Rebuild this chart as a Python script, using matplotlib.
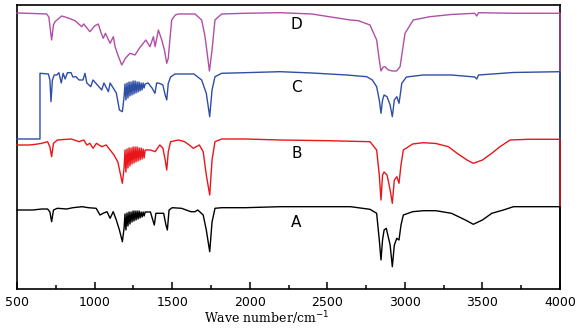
import matplotlib.pyplot as plt
from matplotlib.ticker import MultipleLocator

# IR spectra: wavenumber (cm-1) and trace height
# (arbitrary units, measured downward from the top of the frame)
wn_d = [500, 600, 691, 705, 723, 735, 745, 788, 830, 874, 917, 930, 970, 1000, 1024, 1040, 1056, 1070,
        1100, 1121, 1132, 1150, 1175, 1200, 1228, 1260, 1290, 1314, 1330, 1357, 1379, 1390, 1411, 1433,
        1450, 1465, 1475, 1485, 1497, 1520, 1540, 1647, 1690, 1710, 1723, 1740, 1757, 1776, 1819, 1970,
        2195, 2400, 2646, 2700, 2775, 2818, 2835, 2846, 2860, 2872, 2893, 2920, 2947, 2969, 2985, 3001,
        3054, 3162, 3300, 3450, 3463, 3475, 3700, 4000, 4000]
t_d = [13, 13.5, 14, 17, 40, 25, 21.7, 16, 18, 20.7, 26.7, 24, 31.7, 26, 24, 32, 38.3, 33.3,
       43.3, 36.7, 46.7, 55, 65, 58, 53.3, 55, 48, 43.3, 40, 46.7, 36.7, 46.7, 30, 40,
       50, 63.3, 58.3, 40, 20, 15, 14, 14, 20, 35, 50, 71, 50, 20, 14, 13.3,
       12.7, 14, 20, 20.7, 25, 40, 60, 71, 67, 66.7, 70, 71, 71, 66.7, 50, 33.3,
       20, 16.7, 14.5, 13.3, 16, 12.7, 13.3, 13.3, 72]

wn_c = [500, 648, 648, 702, 712, 719, 728, 740, 756, 770, 785, 797, 810, 825, 848, 860, 880, 900, 925,
        938, 950, 975, 990, 1046, 1060, 1089, 1100, 1120, 1140, 1160, 1179, 1190,
        1196, 1202, 1209, 1215, 1222, 1228, 1235, 1241, 1248, 1254, 1261, 1267, 1274, 1280, 1287, 1293,
        1300, 1306, 1313, 1319, 1326,
        1345, 1370, 1389, 1400, 1418, 1440, 1455, 1465, 1475, 1490, 1518, 1640, 1690, 1720, 1742, 1757,
        1776, 1819, 1970, 2195, 2400, 2625, 2700, 2754, 2790, 2818, 2835, 2846, 2856, 2866, 2885, 2905,
        2919, 2932, 2948, 2962, 2970, 2980, 3010, 3119, 3300, 3450, 3463, 3475, 3700, 4000, 4000]
t_c = [139, 139, 73.3, 74, 80, 101.7, 80, 75, 75, 72.7, 83, 73.3, 79, 72.7, 72.7, 77, 76.7, 80, 80,
       73.3, 83, 86.7, 80, 90, 83, 91.7, 83, 88, 93, 110, 111.7, 96.7,
       84, 100, 83, 98, 82, 96, 82, 95, 81, 94, 81, 93, 82, 92, 82, 91,
       83, 90, 83, 88, 84,
       83, 88, 93.3, 83, 83.3, 85, 95, 100, 83.3, 77, 74, 74, 80, 93.3, 116.7, 90,
       76.7, 73.3, 72.7, 71.7, 73, 75, 76, 76.7, 80, 86.7, 100, 113.3, 100, 95, 96.7, 105,
       116.7, 100, 96.7, 103.3, 95, 83.3, 77, 75, 75, 77, 79, 75, 72.5, 71.7, 139]

wn_b = [500, 580, 620, 660, 697, 712, 723, 735, 760, 850, 900, 930, 950, 970, 990, 1012, 1046, 1075,
        1100, 1125, 1150, 1179, 1190,
        1196, 1202, 1209, 1215, 1222, 1228, 1235, 1241, 1248, 1254, 1261, 1267, 1274, 1280, 1287, 1293,
        1300, 1306, 1313, 1319, 1326,
        1360, 1390, 1420, 1440, 1455, 1465, 1475, 1490, 1540, 1580, 1610, 1637, 1655, 1675, 1700, 1720,
        1742, 1757, 1776, 1819, 1970, 2195, 2500, 2775, 2818, 2835, 2846, 2856, 2866, 2885, 2905, 2919,
        2932, 2948, 2962, 2975, 2990, 3050, 3119, 3200, 3280, 3334, 3400, 3441, 3500, 3560, 3613, 3678,
        3800, 4000, 4000]
t_b = [145, 145, 144.3, 143.3, 141.7, 147, 156.7, 143.3, 140, 139, 141.7, 140, 145, 143.3, 148.3, 143.3, 146.7, 145,
       150, 155, 162, 183.3, 168,
       150, 172, 149, 168, 148, 166, 148, 164, 147, 163, 147, 162, 147, 161, 148, 160,
       148, 159, 149, 158, 150,
       150, 151.7, 145, 148, 160, 170, 151.7, 141.7, 140, 141.7, 145, 148.3, 146.7, 145, 151.7, 175,
       195, 160, 141.7, 139, 139, 140, 140.7, 141.7, 150, 175, 200, 175, 172, 175, 190, 203.3,
       180, 176.7, 183.3, 165, 150, 144, 142.7, 143.5, 146.7, 153, 160, 163.3, 160, 153.3, 146.7, 140,
       139.3, 139.3, 207]

wn_a = [500, 600, 660, 697, 712, 723, 735, 760, 820, 860, 920, 960, 1010, 1035, 1055, 1080, 1100, 1120,
        1140, 1160, 1179, 1190,
        1196, 1202, 1209, 1215, 1222, 1228, 1235, 1241, 1248, 1254, 1261, 1267, 1274, 1280, 1287, 1293,
        1300, 1306, 1313, 1319, 1326,
        1360, 1375, 1385, 1395, 1420, 1445, 1460, 1469, 1480, 1500, 1560, 1620, 1647, 1665, 1700, 1720,
        1742, 1757, 1776, 1819, 1970, 2195, 2650, 2775, 2818, 2835, 2846, 2856, 2866, 2880, 2905, 2919,
        2932, 2948, 2962, 2975, 2990, 3050, 3119, 3200, 3300, 3390, 3441, 3500, 3560, 3635, 3700, 4000, 4000]
t_a = [210, 210, 209, 209, 212, 221.7, 210, 208.3, 209, 207.7, 206.7, 207.7, 208.3, 215, 213.3, 211.7, 218.3, 211.7,
       220, 230, 241.7, 228,
       214, 230, 213, 226, 212, 224, 212, 222, 211, 221, 211, 220, 211, 219, 211, 218,
       212, 217, 212, 216, 212,
       212, 220, 225, 213.3, 213.3, 213.3, 225, 230, 210, 207.7, 208.3, 211.7, 211.7, 210, 215, 230,
       251.7, 222, 208.3, 207.7, 207.7, 206.7, 206.7, 209.3, 213.3, 240, 260, 240, 230, 228.3, 245, 266.7,
       245, 238.3, 240, 225, 215, 211.7, 210.7, 210.7, 213.3, 220, 224.3, 220, 213.3, 210, 206.7, 206.7, 289.3]

names = ['D', 'C', 'B', 'A']
colors = ['#b04fa6', '#2f4fa5', '#e8161b', '#000000']
label_pos = [25, 87.5, 153.5, 223]

fig = plt.figure(figsize=(5.81, 3.32), dpi=100)
ax = fig.add_axes([0.0293, 0.1286, 0.9346, 0.8564])

for wn, t, c in zip([wn_d, wn_c, wn_b, wn_a], [t_d, t_c, t_b, t_a], colors):
    ax.plot(wn, t, color=c, lw=1.0, clip_on=False, zorder=3)

for name, yl in zip(names, label_pos):
    ax.text(2300, yl, name, fontsize=11, ha='center', va='center', family='DejaVu Sans')

ax.set_xlim(500, 4000)
ax.set_ylim(289.3, 5)
ax.set_yticks([])
ax.xaxis.set_major_locator(MultipleLocator(500))
ax.xaxis.set_minor_locator(MultipleLocator(250))
ax.tick_params(axis='x', which='major', direction='in', length=5, width=1.1, labelsize=9, pad=5)
ax.tick_params(axis='x', which='minor', direction='in', length=3, width=1.1)
for s in ax.spines.values():
    s.set_linewidth(1.2)

ax.set_xlabel('Wave number/cm$^{-1}$', family='DejaVu Serif', fontsize=9)
ax.xaxis.set_label_coords(0.46, -0.07)

fig.savefig('out.png', dpi=100)
